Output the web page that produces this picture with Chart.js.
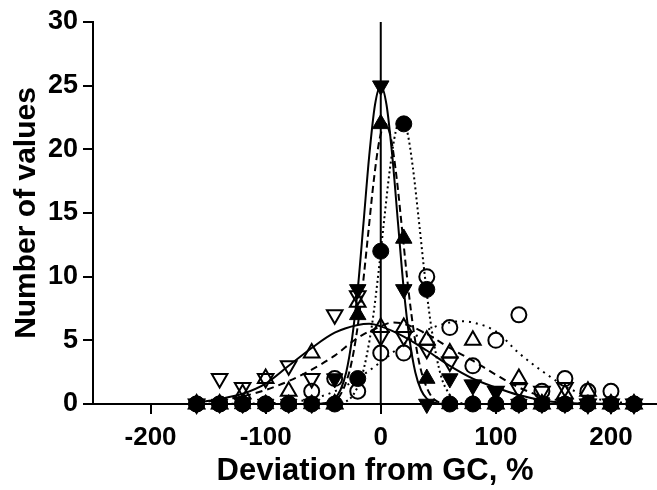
<!DOCTYPE html>
<html><head><meta charset="utf-8">
<script src="https://cdn.jsdelivr.net/npm/chart.js@4/dist/chart.umd.min.js"></script>
<style>html,body{margin:0;padding:0;background:#fff}canvas{display:block}</style>
</head><body>
<canvas id="c" width="657" height="490"></canvas>
<script>
// Categories (deviation bins, %)
const xValues = [-160,-140,-120,-100,-80,-60,-40,-20,0,20,40,60,80,100,120,140,160,180,200,220];
// Series values (number of values per bin)
const filledDown   = [0,0,0,0,0,0,2,9,25,9,0,2,1.5,1,0,0,0,0,0,0];
const filledUp     = [0,0,0,0,0,0,0,7,22,13,2,0,0,0,0,0,0,0,0,0];
const filledCircle = [0,0,0,0,0,0,0,2,12,22,9,0,0,0,0,0,0,0,0,0];
const openCircle   = [0,0,0,0,0,1,2,1,4,4,10,6,3,5,7,1,2,1,1,0];
const openUp       = [0,0,0.8,2,1,4,0,8,6,6,5,4,5,0,2,0,0.8,1,0,0];
const openDown     = [0,2,1.3,2,3,2,7,8.5,5.3,5.3,4.3,3.3,1.5,1,1.2,1,1.3,0,0,0];

// Fitted curves
const fitFilledDownX = [-160,-60,-45,-40,-35,-30,-25,-20,-15,-10,-5,0,5,10,15,20,25,30,35,40,45,60,220];
const fitFilledDownY = [0,0,0.15,0.42,1.1,2.5,5.1,9.0,14.2,19.5,23.5,25,23.5,19.5,14.2,9.0,5.1,2.5,1.1,0.42,0.15,0,0];
const fitFilledUpX = [-160,-60,-41,-36,-31,-26,-21,-16,-11,-6,-1,4,9,14,19,24,29,34,39,44,49,60,220];
const fitFilledUpY = [0,0,0.2,0.6,1.5,3.0,5.5,9.0,13.3,17.6,20.8,22,20.8,17.6,13.3,9.0,5.5,3.0,1.5,0.6,0.2,0,0];
const fitFilledCircleX = [-160,-40,-27,-22,-17,-12,-7,-2,3,8,13,18,23,28,33,38,43,48,53,58,63,75,220];
const fitFilledCircleY = [0,0,0.4,1.0,2.0,3.9,6.6,10.3,14.5,18.5,21.4,22.5,21.4,18.5,14.5,10.3,6.6,3.9,2.0,1.0,0.4,0,0];
const fitOpenCircleX = [-160,-100,-80,-60,-40,-20,0,20,40,60,70,80,100,120,140,160,180,200,220];
const fitOpenCircleY = [0,0.05,0.15,0.4,1.0,2.0,3.3,4.7,5.8,6.4,6.5,6.4,5.7,4.0,2.6,1.4,0.6,0.2,0.05];
const fitOpenUpX = [-160,-140,-120,-100,-80,-60,-40,-20,0,10,20,40,60,80,100,120,140,160,180,220];
const fitOpenUpY = [0.1,0.3,0.6,1.1,1.8,2.7,3.8,5.2,6.1,6.4,6.3,5.5,4.4,3.4,2.3,1.3,0.6,0.2,0.05,0];
const fitOpenDownX = [-160,-140,-120,-100,-80,-60,-40,-20,-10,0,20,40,60,80,100,120,140,160,180,220];
const fitOpenDownY = [0.1,0.4,0.8,1.6,3.0,4.4,5.6,6.2,6.3,6.1,5.3,4.2,3.0,2.0,1.3,0.7,0.3,0.1,0.03,0];
const refLineX = [0,0];
const refLineY = [0,30];

// Tick labels
const xTicks = [-200,-100,0,100,200];
const yTicks = [0,5,10,15,20,25,30];

const pts = (xs, ys) => xs.map((x, i) => ({x, y: ys[i]}));
const FONT = "'Liberation Sans', Arial, sans-serif";

function scatter(ys, style, rot, filled, r) {
  return {
    type: 'scatter', data: pts(xValues, ys), showLine: false, clip: false,
    pointStyle: style, rotation: rot, pointRadius: r, pointHoverRadius: r,
    backgroundColor: filled ? '#000' : 'rgba(0,0,0,0)', borderColor: '#000',
    pointBorderWidth: filled ? 1 : 2
  };
}
function curve(xs, ys, dash) {
  return {
    type: 'line', data: pts(xs, ys), showLine: true, clip: false, pointRadius: 0,
    borderColor: '#000', borderWidth: 2, borderDash: dash, fill: false,
    cubicInterpolationMode: 'monotone'
  };
}

new Chart(document.getElementById('c'), {
  type: 'scatter',
  data: {
    datasets: [
      scatter(filledDown, 'triangle', 180, true, 9.5),
      scatter(filledUp, 'triangle', 0, true, 9.5),
      scatter(filledCircle, 'circle', 0, true, 8),
      scatter(openCircle, 'circle', 0, false, 7.5),
      scatter(openUp, 'triangle', 0, false, 9),
      scatter(openDown, 'triangle', 180, false, 9),
      curve(fitFilledDownX, fitFilledDownY, []),
      curve(fitFilledUpX, fitFilledUpY, [7, 4]),
      curve(fitFilledCircleX, fitFilledCircleY, [2, 3]),
      curve(fitOpenCircleX, fitOpenCircleY, [2, 5]),
      curve(fitOpenUpX, fitOpenUpY, [7, 5]),
      curve(fitOpenDownX, fitOpenDownY, []),
      { type: 'line', data: pts(refLineX, refLineY), showLine: true, pointRadius: 0,
        borderColor: '#000', borderWidth: 2, clip: false }
    ]
  },
  options: {
    responsive: false, animation: false, devicePixelRatio: 1,
    layout: { autoPadding: false, padding: { top: 22, right: 0, left: 0, bottom: 0 } },
    plugins: { legend: { display: false }, tooltip: { enabled: false } },
    scales: {
      x: {
        type: 'linear', min: -250, max: 240,
        afterBuildTicks: s => { s.ticks = xTicks.map(v => ({ value: v })); },
        afterFit: s => { s.height = 86; s.paddingLeft = 0; s.paddingRight = 0; },
        ticks: { color: '#000', font: { family: FONT, size: 26, weight: 'bold' }, padding: 8 },
        grid: { drawOnChartArea: false, drawTicks: true, tickLength: 10, color: '#000', lineWidth: 2 },
        border: { color: '#000', width: 2 },
        title: { display: true, text: 'Deviation from GC, %', color: '#000',
                 font: { family: FONT, size: 31, weight: 'bold' }, padding: { top: 0, bottom: 0 } }
      },
      y: {
        type: 'linear', min: 0, max: 30,
        afterBuildTicks: s => { s.ticks = yTicks.map(v => ({ value: v })); },
        afterFit: s => { s.width = 93; s.paddingTop = 0; s.paddingBottom = 0; },
        ticks: { color: '#000', font: { family: FONT, size: 27, weight: 'bold' }, padding: 5 },
        grid: { drawOnChartArea: false, drawTicks: true, tickLength: 10, color: '#000', lineWidth: 2 },
        border: { color: '#000', width: 2 },
        title: { display: true, text: 'Number of values', color: '#000',
                 font: { family: FONT, size: 30, weight: 'bold' }, padding: { top: 9, bottom: 0 } }
      }
    }
  }
});
</script>
</body></html>
